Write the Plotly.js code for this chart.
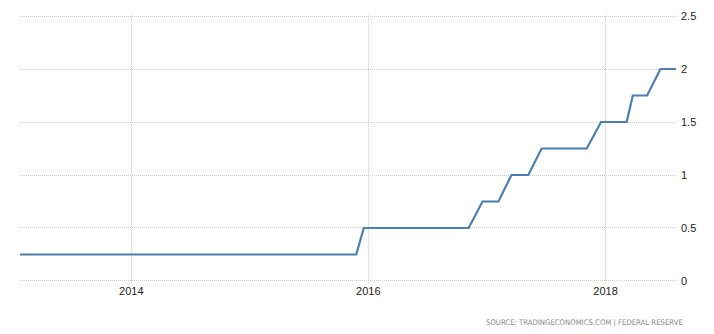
<!DOCTYPE html>
<html>
<head>
<meta charset="utf-8">
<script src="https://cdn.plot.ly/plotly-3.0.1.min.js"></script>
<style>
html,body{margin:0;padding:0;background:#fff;}
#chart{width:714px;height:334px;}
</style>
</head>
<body>
<div id="chart"></div>
<script>
// Fed funds rate (upper bound)
var dates = [
  "2013-01-23", "2015-11-25", "2015-12-18", "2016-11-05", "2016-12-18",
  "2017-02-05", "2017-03-17", "2017-05-08", "2017-06-18", "2017-11-04",
  "2017-12-18", "2018-03-07", "2018-03-26", "2018-05-09", "2018-06-19",
  "2018-08-06"
];
var rates = [
  0.25, 0.25, 0.5, 0.5, 0.75,
  0.75, 1.0, 1.0, 1.25, 1.25,
  1.5, 1.5, 1.75, 1.75, 2.0,
  2.0
];
var xTickVals = ["2014-01-01", "2016-01-01", "2018-01-01"];
var xTickText = ["2014", "2016", "2018"];
var yTickVals = [0, 0.5, 1, 1.5, 2, 2.5];
var yTickText = ["0", "0.5", "1", "1.5", "2", "2.5"];
var sourceText = "SOURCE: TRADINGECONOMICS.COM | FEDERAL RESERVE";

var trace = {
  x: dates,
  y: rates,
  type: "scatter",
  mode: "lines",
  line: {color: "#4b7fb0", width: 2.2},
  hoverinfo: "skip"
};

var layout = {
  width: 714,
  height: 334,
  margin: {l: 20, r: 38, t: 14, b: 51},
  paper_bgcolor: "#ffffff",
  plot_bgcolor: "#ffffff",
  showlegend: false,
  font: {family: "Liberation Sans, Arial, sans-serif", size: 11, color: "#222"},
  xaxis: {
    type: "date",
    range: [dates[0], dates[dates.length - 1]],
    tickvals: xTickVals,
    ticktext: xTickText,
    showgrid: true,
    gridcolor: "#cfcfcf",
    griddash: "1px,1px",
    gridwidth: 1,
    zeroline: false,
    showline: false,
    ticks: "",
    tickfont: {size: 11, color: "#222"},
    fixedrange: true
  },
  yaxis: {
    side: "right",
    range: [-0.019, 2.519],
    tickvals: yTickVals,
    ticktext: yTickText,
    showgrid: true,
    gridcolor: "#cfcfcf",
    griddash: "1px,1px",
    gridwidth: 1,
    zeroline: false,
    showline: false,
    ticks: "",
    ticklabelstandoff: 4,
    tickfont: {size: 11, color: "#222"},
    fixedrange: true
  },
  annotations: [{
    text: sourceText,
    xref: "paper",
    yref: "paper",
    x: 1.0 + 9 / 656,
    y: 0,
    yshift: -39,
    xanchor: "right",
    yanchor: "middle",
    showarrow: false,
    font: {family: "DejaVu Sans Condensed, Liberation Sans Narrow, sans-serif", size: 7.7, color: "#8a8a8a"}
  }]
};

Plotly.newPlot("chart", [trace], layout, {staticPlot: true, displayModeBar: false});
</script>
</body>
</html>
